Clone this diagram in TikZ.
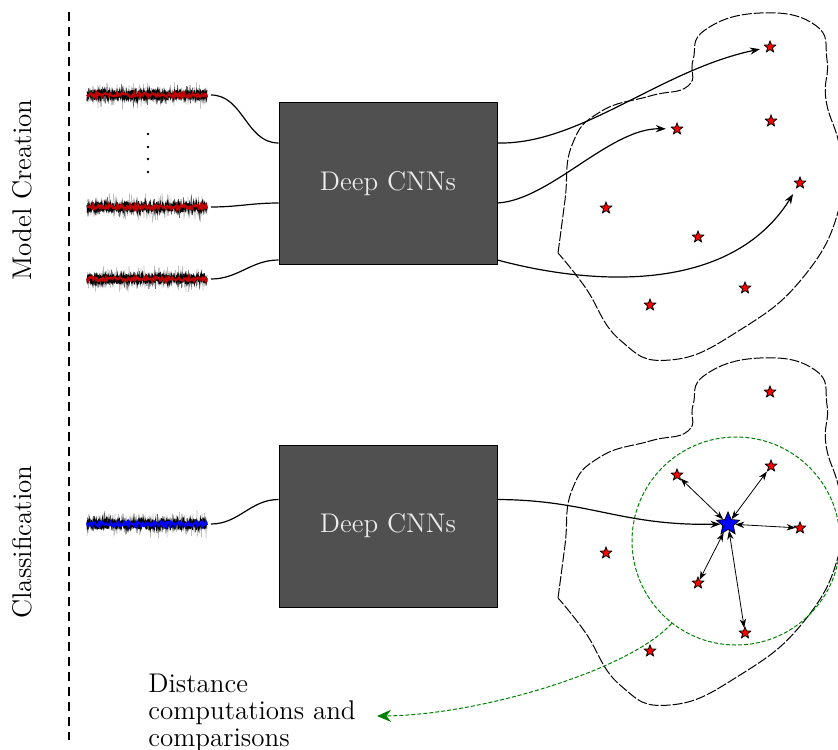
\documentclass[tikz,border=0pt]{standalone}
\usetikzlibrary{shapes.geometric,arrows.meta,calc}
\newcommand{\sigwave}[3]{%
  \pgfmathsetseed{#3}%
  \draw[black!25, line width=0.3pt] plot[domain=87:207, samples=241] (\x, {#1+16*rand*abs(rand)});
  \draw[black!60, line width=0.35pt] plot[domain=87:207, samples=241] (\x, {#1+12*rand*abs(rand)});
  \draw[black, line width=0.5pt] plot[domain=87:207, samples=301] (\x, {#1+7*rand*abs(rand)});
  \draw[black, line width=0.5pt] plot[domain=87:207, samples=301] (\x, {#1+5*rand});
  \draw[#2, line width=1.1pt] plot[domain=87:207, samples=121] (\x, {#1+2.2*rand});
}
\definecolor{boxgray}{RGB}{80,80,80}
\definecolor{sigred}{RGB}{190,0,0}
\definecolor{dgreen}{RGB}{0,128,0}
\begin{document}
\begin{tikzpicture}[x=0.5pt,y=-0.5pt,
  font=\fontsize{13.5}{13.4}\selectfont,
  cnnbox/.style={draw=black, line width=0.5pt, fill=boxgray, text=black!8,
    minimum width=109pt, minimum height=81pt, inner sep=0pt},
  redstar/.style={star, star points=5, star point ratio=2.3, minimum size=6pt,
    inner sep=0pt, fill=red, draw=black, line width=0.4pt},
  bluestar/.style={star, star points=5, star point ratio=2.2, minimum size=12pt,
    inner sep=0pt, fill=blue, draw=black, line width=0.4pt},
  blobline/.style={draw=black, line width=0.5pt, dash pattern=on 5pt off 1pt},
  conn/.style={draw=black, line width=0.6pt},
  feat/.style={conn, -{Stealth[length=5pt,width=3.6pt]}, shorten >=3.5pt},
  dist/.style={draw=black, line width=0.4pt, {Stealth[length=4.5pt,width=3.2pt]}-{Stealth[length=4.5pt,width=3.2pt]}},
  greendash/.style={draw=dgreen, line width=0.5pt, dash pattern=on 2pt off 1pt},
  lbl/.style={inner sep=0pt}
]
\useasboundingbox (0,0) rectangle (838,749);

% separator line
\coordinate (ltop) at (69,12);
\coordinate (lbot) at (69,740);
\draw[line width=1.2pt, dash pattern=on 4.5pt off 3pt] (ltop) -- (lbot);

% side labels
\node[lbl, rotate=90] (lmc) at (22,190) {Model Creation};
\node[lbl, rotate=90] (lcl) at (22,542) {Classification};

% signals
\sigwave{95}{sigred}{11}
\sigwave{207}{sigred}{23}
\sigwave{279}{sigred}{37}
\sigwave{524}{blue}{41}
\coordinate (s1) at (211,95);
\coordinate (s2) at (211,207);
\coordinate (s3) at (211,279);
\coordinate (s4) at (211,524);

% vertical dots
\foreach \yy [count=\i] in {134,147,159,172}
  \node[circle, fill=black, inner sep=0pt, minimum size=1.3pt] (dot\i) at (148,\yy) {};

% CNN boxes
\node[cnnbox] (cnn1) at (388,183.5) {Deep CNNs};
\node[cnnbox] (cnn2) at (388,526) {Deep CNNs};

\coordinate (c1a) at ($(cnn1.north west)+(0,41)$);
\coordinate (c1b) at ($(cnn1.north west)+(0,101)$);
\coordinate (c1c) at ($(cnn1.north west)+(0,158)$);
\coordinate (o1a) at ($(cnn1.north east)+(0,41)$);
\coordinate (o1b) at ($(cnn1.north east)+(0,101)$);
\coordinate (o1c) at ($(cnn1.north east)+(0,158)$);
\coordinate (c2a) at ($(cnn2.north west)+(0,55)$);
\coordinate (o2a) at ($(cnn2.north east)+(0,55)$);

\draw[conn] (s1) to[out=0,in=180] (c1a);
\draw[conn] (s2) to[out=0,in=180] (c1b);
\draw[conn] (s3) to[out=0,in=180] (c1c);
\draw[conn] (s4) to[out=0,in=180] (c2a);

% blobs
\foreach \sh in {0,345}{
\begin{scope}[shift={(0,\sh)}]
\draw[blobline] plot[smooth, tension=0.8] coordinates {
 (558,253) (565,200) (572,145) (600,112) (650,96) (688,86) (693,60)
 (705,30) (760,13) (815,25) (827,60) (826,100) (840,150) (840,205)
 (805,275) (740,330) (670,360) (620,340) (585,287) (558,253)};
\end{scope}
}

% green circle
\node[circle, greendash, minimum size=104pt, inner sep=0pt] (zone) at (736,541) {};

% stars top
\node[redstar] (t1) at (770,47) {};
\node[redstar] (t2) at (677,129) {};
\node[redstar] (t3) at (771,121) {};
\node[redstar] (t4) at (800,183) {};
\node[redstar] (t5) at (606,208) {};
\node[redstar] (t6) at (698,237) {};
\node[redstar] (t7) at (650,305) {};
\node[redstar] (t8) at (745,288) {};

% stars bottom
\node[redstar] (b1) at (770,392) {};
\node[redstar] (b2) at (677,475) {};
\node[redstar] (b3) at (771,466) {};
\node[redstar] (b4) at (800,528) {};
\node[redstar] (b5) at (606,553) {};
\node[redstar] (b6) at (698,583) {};
\node[redstar] (b7) at (650,651) {};
\node[redstar] (b8) at (745,633) {};
\node[bluestar] (q) at (728,524) {};

% feature arrows
\draw[feat] (o1a) .. controls (580,145) and (660,70) .. (t1);
\draw[feat] (o1b) .. controls (550,200) and (610,128) .. (t2);
\draw[feat] (o1c) .. controls (590,285) and (730,295) .. (t4);
\draw[feat, shorten >=0pt] (o2a) .. controls (590,500) and (620,526) .. (q);

% distance arrows
\foreach \t in {b2,b3,b4,b6,b8}
  \draw[dist] (q) -- (\t);

% annotation
\node[lbl, anchor=north west, align=left] (dtext) at (148,674) {Distance\\computations and\\comparisons};
\coordinate (dtip) at (377,716);
\draw[greendash, -{Stealth[length=7pt,width=6pt]}] (zone.232) .. controls (630,670) and (480,715) .. (dtip);
\end{tikzpicture}
\end{document}
